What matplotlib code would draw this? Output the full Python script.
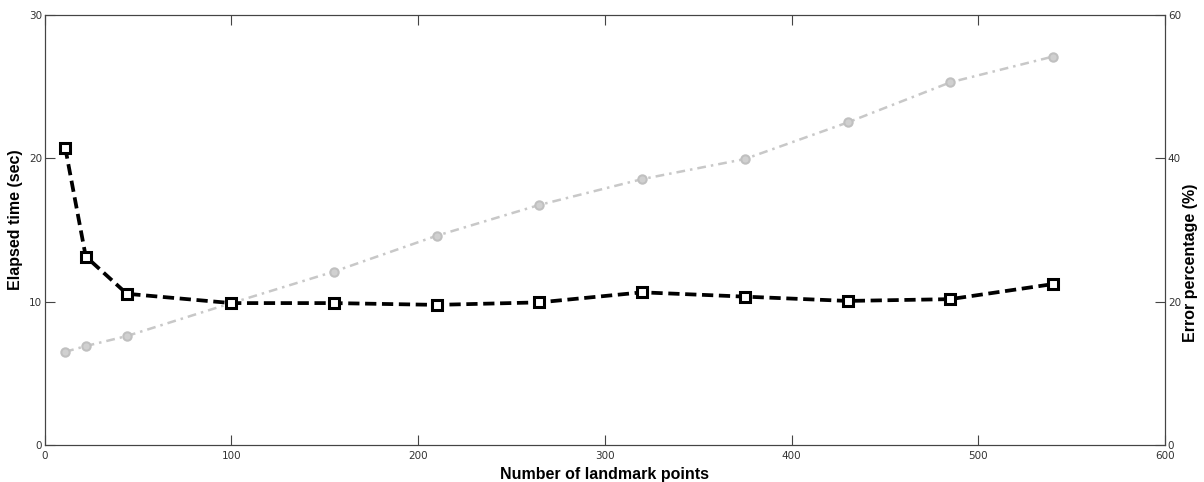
import matplotlib
matplotlib.use("Agg")
import matplotlib.pyplot as plt

# Number of landmark points
landmarks = [11, 22, 44, 100, 155, 210, 265, 320, 375, 430, 485, 540]
# Elapsed time (sec), grey dash-dot curve, left axis
elapsed_time = [6.5, 6.9, 7.6, 9.9, 12.1, 14.6, 16.75, 18.55, 19.95, 22.5, 25.3, 27.1]
# Error percentage (%), black dashed curve, right axis
error_pct = [41.5, 26.3, 21.1, 19.8, 19.8, 19.55, 19.9, 21.3, 20.7, 20.1, 20.35, 22.45]

x_ticks = [0, 100, 200, 300, 400, 500, 600]
left_ticks = [0, 10, 20, 30]
right_ticks = [0, 20, 40, 60]

tick_font = ["Liberation Sans Narrow", "DejaVu Sans"]
label_font = ["Liberation Sans", "DejaVu Sans"]
spine_color = "#444444"

fig = plt.figure(figsize=(12.04, 4.82), dpi=100)
ax = fig.add_axes([0.0371, 0.0768, 0.9305, 0.8921])
ax2 = ax.twinx()

ax.plot(landmarks, elapsed_time, color="#c8c8c8", linestyle=(0, (3.5, 2, 1, 2)),
        linewidth=1.8, marker="o", markersize=6, markerfacecolor="#d0d0d0",
        markeredgecolor="#c0c0c0", markeredgewidth=1.5)
ax2.plot(landmarks, error_pct, color="black", linestyle=(0, (3, 1.5)), linewidth=2.7,
         marker="s", markersize=6.5, markerfacecolor="white",
         markeredgecolor="black", markeredgewidth=2.2)

ax.set_xlim(0, 600)
ax.set_ylim(0, 30)
ax2.set_ylim(0, 60)

ax.set_xticks(x_ticks)
ax.set_yticks(left_ticks)
ax2.set_yticks(right_ticks)

ax.tick_params(axis="x", direction="in", length=7, width=0.8, color=spine_color,
               top=True, labelsize=7.5, pad=4)
ax.tick_params(axis="y", direction="in", length=7, width=0.8, color=spine_color,
               right=False, labelsize=7.5, pad=2)
ax2.tick_params(axis="y", direction="in", length=7, width=0.8, color=spine_color,
                labelsize=7.5, pad=2)
for lab in ax.get_xticklabels() + ax.get_yticklabels() + ax2.get_yticklabels():
    lab.set_family(tick_font)
    lab.set_color("#333333")

for a in (ax, ax2):
    for sp in a.spines.values():
        sp.set_color(spine_color)
        sp.set_linewidth(0.8)

ax.set_xlabel("Number of landmark points", fontsize=11.5, fontweight="bold",
              family=label_font, labelpad=5)
# y labels placed by hand so they stay inside the narrow margins
fig.text(16 / 1204, 0.545, "Elapsed time (sec)", rotation=90, ha="center", va="center",
         fontsize=11.5, fontweight="bold", family=label_font)
fig.text(1190 / 1204, 0.455, "Error percentage (%)", rotation=90, ha="center",
         va="center", fontsize=11.5, fontweight="bold", family=label_font)

fig.savefig("out.png", dpi=100)
plt.close(fig)
